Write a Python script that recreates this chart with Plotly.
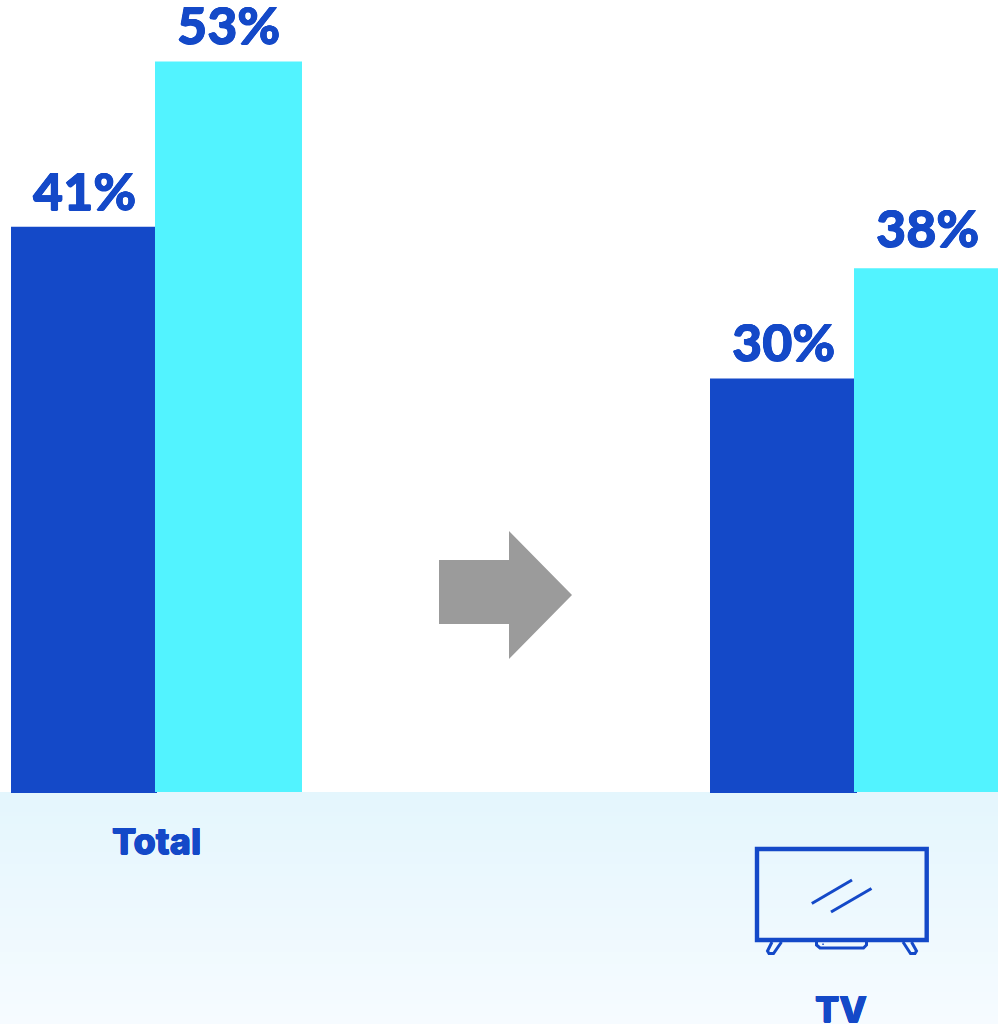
import plotly.graph_objects as go

# Chart data
categories = ["Total", "TV"]
series_a_values = [41, 30]
series_b_values = [53, 38]

# Colours
DARK_BLUE = "#1449C8"
CYAN = "#52F3FF"
ARROW_GREY = "#9B9B9B"
BAND_TOP = (228, 246, 253)
BAND_BOTTOM = (246, 251, 255)

# Page geometry, in pixels
W, H = 998, 1024
BASE_PX = 792
PX_PER_UNIT = 13.785
CENTER_0, CENTER_1 = 156.5, 854.0
PX_PER_CAT = CENTER_1 - CENTER_0


def px_x(x):
    return x / W


def px_y(y):
    return 1 - y / H


def path(points, close=False):
    d = "M" + " L".join(f"{px_x(x):.5f},{px_y(y):.5f}" for x, y in points)
    return d + (" Z" if close else "")


def page_shape(points, close=False, fill=None, line_width=0, color=DARK_BLUE):
    spec = dict(
        type="path",
        xref="paper",
        yref="paper",
        path=path(points, close),
        layer="above",
        line=dict(color=color, width=line_width),
    )
    if fill:
        spec["fillcolor"] = fill
    return spec


fig = go.Figure()

# Bar edges are per category, so each trace carries its own offsets and widths
fig.add_bar(
    x=categories,
    y=series_a_values,
    marker=dict(color=DARK_BLUE, line=dict(width=0)),
    offset=[(11 - CENTER_0) / PX_PER_CAT, (710 - CENTER_1) / PX_PER_CAT],
    width=[144.5 / PX_PER_CAT, 144.5 / PX_PER_CAT],
)
fig.add_bar(
    x=categories,
    y=series_b_values,
    marker=dict(color=CYAN, line=dict(width=0)),
    offset=[(155 - CENTER_0) / PX_PER_CAT, (854 - CENTER_1) / PX_PER_CAT],
    width=[147 / PX_PER_CAT, 144 / PX_PER_CAT],
)

shapes = []

# Pale band under the baseline, fading downwards
STEPS = 58
for i in range(STEPS):
    t = i / (STEPS - 1)
    rgb = [round(a + (b - a) * t) for a, b in zip(BAND_TOP, BAND_BOTTOM)]
    y0 = BASE_PX + (H - BASE_PX) * i / STEPS
    y1 = BASE_PX + (H - BASE_PX) * (i + 1) / STEPS + 1
    shapes.append(dict(
        type="rect", xref="paper", yref="paper", layer="below",
        x0=0, x1=1, y0=px_y(y1), y1=px_y(y0),
        fillcolor=f"rgb({rgb[0]},{rgb[1]},{rgb[2]})", line=dict(width=0),
    ))

# Hairline finishing the dark bars along the baseline
for left, right in ((11, 157), (710, 857)):
    shapes.append(page_shape([(left, BASE_PX), (right, BASE_PX), (right, BASE_PX + 1), (left, BASE_PX + 1)],
                             close=True, fill=DARK_BLUE))

# Grey arrow between the two groups
shapes.append(page_shape(
    [(439, 560), (509, 560), (509, 531), (572, 595), (509, 659), (509, 624), (439, 624)],
    close=True, fill=ARROW_GREY, color=ARROW_GREY,
))

# Television icon
STROKE = 3
shapes.append(page_shape([(757, 849), (926.7, 849), (926.7, 940), (757, 940)], close=True, line_width=4.4))
shapes.append(page_shape([(811.8, 903.5), (852, 880)], line_width=STROKE))
shapes.append(page_shape([(831, 912), (871.5, 888.5)], line_width=STROKE))
shapes.append(page_shape(
    [(772, 942), (767.5, 951), (769, 953.5), (773.5, 953.5), (781.5, 942)], line_width=STROKE))
shapes.append(page_shape(
    [(911.5, 942), (916.5, 951), (915, 953.5), (910.5, 953.5), (903, 942)], line_width=STROKE))
shapes.append(page_shape(
    [(816.5, 942), (816.5, 945), (820, 948), (863.5, 948), (866.5, 945), (866.5, 942)], line_width=STROKE))
shapes.append(page_shape([(822.3, 943.6), (823.8, 943.6), (823.8, 945), (822.3, 945)], close=True, fill=DARK_BLUE))

# A faint same-colour halo gives the text its extra-heavy look
HEAVY = ", ".join(f"{dx}px {dy}px 0 {DARK_BLUE}" for dx, dy in
                  ((0.5, 0), (-0.5, 0), (0, 0.5), (0, -0.5)))

# Value labels above the bars
LABEL_FONT = dict(family="Lato", size=52, color=DARK_BLUE, weight=900, shadow=HEAVY)
label_centres = [[84.5, 228.5], [783, 927.5]]
label_lifts = [[4, 4], [4, 8]]
annotations = []
for idx, values in enumerate(zip(series_a_values, series_b_values)):
    for j, value in enumerate(values):
        annotations.append(dict(
            x=categories[idx], xref="x", y=value, yref="y", text=f"{value}%",
            showarrow=False, font=LABEL_FONT, yanchor="bottom", xanchor="center",
            xshift=label_centres[idx][j] - (CENTER_0 if idx == 0 else CENTER_1),
            yshift=label_lifts[idx][j],
        ))

# Category captions
CAPTION_FONT = dict(family="Inter", size=36, color=DARK_BLUE, weight=800, shadow=HEAVY)
caption_centres = [(156.5, 841), (841, 1008.5)]
for label, (cx, cy) in zip(categories, caption_centres):
    annotations.append(dict(x=px_x(cx), y=px_y(cy), xref="paper", yref="paper", text=label,
                            showarrow=False, font=CAPTION_FONT, xanchor="center", yanchor="middle"))

fig.update_layout(
    width=W,
    height=H,
    margin=dict(l=0, r=0, t=0, b=0),
    autosize=False,
    barmode="overlay",
    showlegend=False,
    paper_bgcolor="white",
    plot_bgcolor="rgba(0,0,0,0)",
    shapes=shapes,
    annotations=annotations,
    xaxis=dict(
        type="category",
        range=[-CENTER_0 / PX_PER_CAT, (W - CENTER_0) / PX_PER_CAT],
        visible=False,
        fixedrange=True,
    ),
    yaxis=dict(
        range=[-(H - BASE_PX) / PX_PER_UNIT, BASE_PX / PX_PER_UNIT],
        visible=False,
        fixedrange=True,
    ),
)

fig.write_html("out.html", config=dict(displayModeBar=False))
